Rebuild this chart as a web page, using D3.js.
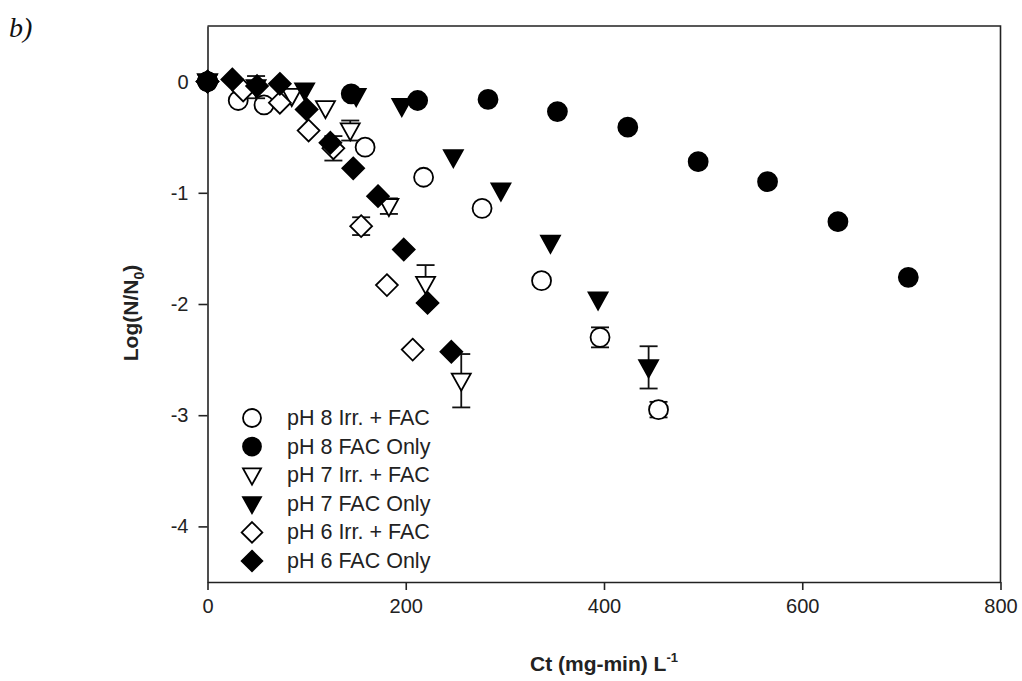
<!DOCTYPE html>
<html>
<head>
<meta charset="utf-8">
<script src="https://cdn.jsdelivr.net/npm/d3@7"></script>
<style>
  body { margin: 0; background: white; }
  text { font-family: "Liberation Sans", Arial, sans-serif; }
</style>
</head>
<body>
<div class="content"></div>
<script>
// Data, Ct in (mg-min)/L and log inactivation
const ph8IrrCt = [0, 31, 57, 159, 218, 277, 337, 396, 455]
const ph8IrrLog = [0, -0.17, -0.21, -0.59, -0.86, -1.14, -1.79, -2.30, -2.95]
const ph8IrrErr = [0, 0, 0, 0.03, 0, 0.03, 0, 0.09, 0.07]

const ph8FacCt = [0, 145, 212, 283, 353, 424, 495, 565, 636, 707]
const ph8FacLog = [0, -0.11, -0.17, -0.16, -0.27, -0.41, -0.72, -0.90, -1.26, -1.76]
const ph8FacErr = [0, 0, 0, 0, 0, 0, 0, 0, 0, 0]

const ph7IrrCt = [0, 85, 119, 144, 183, 220, 256]
const ph7IrrLog = [0, -0.13, -0.24, -0.44, -1.12, -1.82, -2.69]
const ph7IrrErr = [0, 0, 0, 0.09, 0.07, 0.17, 0.24]

const ph7FacCt = [0, 49, 98, 150, 196, 248, 296, 346, 394, 445]
const ph7FacLog = [0, -0.05, -0.08, -0.13, -0.22, -0.68, -0.98, -1.45, -1.96, -2.57]
const ph7FacErr = [0, 0.10, 0, 0, 0, 0, 0, 0, 0, 0.19]

const ph6IrrCt = [0, 36, 73, 102, 127, 155, 181, 207]
const ph6IrrLog = [0, -0.08, -0.19, -0.44, -0.60, -1.30, -1.83, -2.41]
const ph6IrrErr = [0, 0, 0, 0, 0.11, 0.08, 0, 0]

const ph6FacCt = [0, 25, 50, 73, 100, 124, 147, 172, 198, 222, 246]
const ph6FacLog = [0, 0.02, -0.04, -0.02, -0.25, -0.55, -0.78, -1.03, -1.51, -1.99, -2.43]
const ph6FacErr = [0, 0, 0, 0, 0, 0, 0, 0, 0, 0, 0]

const seriesNames = ['pH 8 Irr. + FAC', 'pH 8 FAC Only', 'pH 7 Irr. + FAC',
    'pH 7 FAC Only', 'pH 6 Irr. + FAC', 'pH 6 FAC Only']
const seriesShapes = ['circle', 'circle', 'triangle', 'triangle', 'diamond', 'diamond']
const seriesFilled = [false, true, false, true, false, true]

const xTicks = [0, 200, 400, 600, 800]
const yTicks = [0, -1, -2, -3, -4]

const width = 1022
const height = 681
const plotLeft = 207.5
const plotRight = 1000.5
const plotTop = 26
const plotBottom = 582

const x = d3.scaleLinear().domain([0, 800]).range([plotLeft, plotRight])
const y = d3.scaleLinear().domain([-4.5, 0.5]).range([plotBottom, plotTop])

let svg = d3.select('div.content')
    .append('svg')
    .attr('width', width)
    .attr('height', height)

// build series table from the arrays
let series = [
    [ph8IrrCt, ph8IrrLog, ph8IrrErr],
    [ph8FacCt, ph8FacLog, ph8FacErr],
    [ph7IrrCt, ph7IrrLog, ph7IrrErr],
    [ph7FacCt, ph7FacLog, ph7FacErr],
    [ph6IrrCt, ph6IrrLog, ph6IrrErr],
    [ph6FacCt, ph6FacLog, ph6FacErr]
].map((s, i) => ({
    name: seriesNames[i],
    shape: seriesShapes[i],
    filled: seriesFilled[i],
    points: s[0].map((c, j) => ({ct: c, log: s[1][j], err: s[2][j]}))
}))

function shapePath(shape, r) {
    if (shape === 'circle') {
        return `M${-r},0A${r},${r} 0 1,0 ${r},0A${r},${r} 0 1,0 ${-r},0Z`
    }
    if (shape === 'triangle') {
        // pointing down
        let h = r * 1.8
        return `M${-r},${-h / 2.4}L${r},${-h / 2.4}L0,${h - h / 2.4}Z`
    }
    let d = r * 1.15
    return `M0,${-d}L${d},0L0,${d}L${-d},0Z`
}

// frame
svg.append('path')
    .attr('d', `M${plotLeft},${plotTop}H${plotRight}V${plotBottom}`)
    .attr('fill', 'none')
    .attr('stroke', '#222')
    .attr('stroke-width', 1.6)

let xAxis = svg.append('g')
    .attr('transform', `translate(0, ${plotBottom})`)
    .call(d3.axisBottom(x).tickValues(xTicks).tickFormat(d => String(d))
        .tickSize(8).tickPadding(9).tickSizeOuter(0))
let yAxis = svg.append('g')
    .attr('transform', `translate(${plotLeft}, 0)`)
    .call(d3.axisLeft(y).tickValues(yTicks).tickFormat(d => String(d))
        .tickSize(9).tickPadding(10).tickSizeOuter(0))

for (let ax of [xAxis, yAxis]) {
    ax.select('.domain').attr('stroke', '#222').attr('stroke-width', 1.6)
    ax.selectAll('.tick line').attr('stroke', '#222').attr('stroke-width', 1.6)
    ax.selectAll('.tick text')
        .attr('fill', '#222')
        .style('font-size', '20px')
        .style('font-family', '"Liberation Sans", Arial, sans-serif')
}

// error bars then markers, series by series
let plot = svg.append('g')
for (let s of series) {
    let g = plot.append('g')
    let bars = s.points.filter(p => p.err > 0)
    g.selectAll('line.err')
        .data(bars)
        .join('line')
        .attr('class', 'err')
        .attr('x1', d => x(d.ct))
        .attr('x2', d => x(d.ct))
        .attr('y1', d => y(d.log + d.err))
        .attr('y2', d => y(d.log - d.err))
        .attr('stroke', '#111')
        .attr('stroke-width', 1.8)
    for (let sign of [1, -1]) {
        g.selectAll('line.cap' + (sign > 0 ? 'up' : 'down'))
            .data(bars)
            .join('line')
            .attr('class', 'cap' + (sign > 0 ? 'up' : 'down'))
            .attr('x1', d => x(d.ct) - 9)
            .attr('x2', d => x(d.ct) + 9)
            .attr('y1', d => y(d.log + sign * d.err))
            .attr('y2', d => y(d.log + sign * d.err))
            .attr('stroke', '#111')
            .attr('stroke-width', 1.8)
    }
    g.selectAll('path.mark')
        .data(s.points)
        .join('path')
        .attr('class', 'mark')
        .attr('transform', d => `translate(${x(d.ct)}, ${y(d.log)})`)
        .attr('d', shapePath(s.shape, 9.5))
        .attr('fill', s.filled ? '#000' : '#fff')
        .attr('stroke', '#000')
        .attr('stroke-width', 1.8)
}

// legend
let legend = svg.append('g').attr('transform', 'translate(252, 418)')
series.forEach((s, i) => {
    let row = legend.append('g').attr('transform', `translate(0, ${i * 28.6})`)
    row.append('path')
        .attr('d', shapePath(s.shape, 9))
        .attr('fill', s.filled ? '#000' : '#fff')
        .attr('stroke', '#000')
        .attr('stroke-width', 1.8)
    row.append('text')
        .attr('x', 35)
        .attr('y', 7)
        .attr('fill', '#222')
        .style('font-size', '21.5px')
        .text(s.name)
})

// axis titles
let yTitle = svg.append('text')
    .attr('transform', 'translate(138, 313) rotate(-90)')
    .attr('text-anchor', 'middle')
    .attr('fill', '#222')
    .style('font-size', '21px')
    .style('font-weight', 'bold')
yTitle.append('tspan').text('Log(N/N')
yTitle.append('tspan').attr('dy', 6).style('font-size', '14px').text('0')
yTitle.append('tspan').attr('dy', -6).text(')')

let xTitle = svg.append('text')
    .attr('x', 604)
    .attr('y', 671)
    .attr('text-anchor', 'middle')
    .attr('fill', '#222')
    .style('font-size', '21px')
    .style('font-weight', 'bold')
xTitle.append('tspan').text('Ct (mg-min) L')
xTitle.append('tspan').attr('dy', -9).style('font-size', '13px').text('-1')

svg.append('text')
    .attr('x', 9)
    .attr('y', 37)
    .style('font-family', '"Liberation Serif", "Times New Roman", serif')
    .style('font-style', 'italic')
    .style('font-size', '28px')
    .attr('fill', '#111')
    .text('b)')
</script>
</body>
</html>
